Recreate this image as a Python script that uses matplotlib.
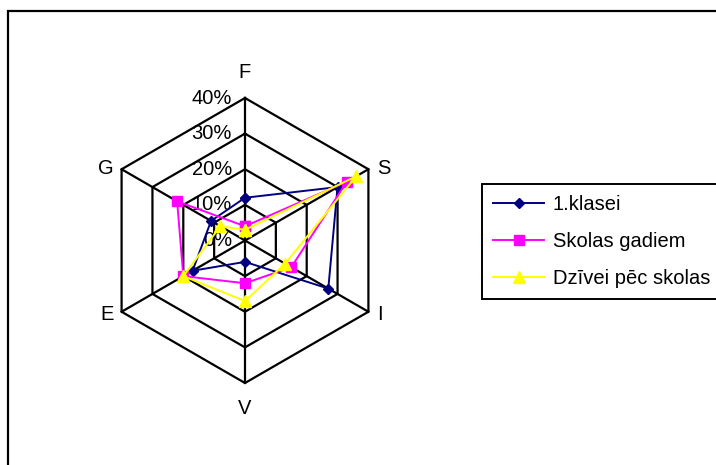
import numpy as np
import matplotlib
matplotlib.use("Agg")
import matplotlib.pyplot as plt
from matplotlib.patches import Rectangle

# Categories around the radar, clockwise from the top
categories = ["F", "S", "I", "V", "E", "G"]

# Shares per category (percent)
klasei = [12, 30, 27, 6, 17, 11]
skolas_gadiem = [4, 33, 15, 12, 20, 22]
dzivei_pec_skolas = [3, 36, 13, 17, 20, 8]

series_names = ["1.klasei", "Skolas gadiem", "Dzīvei pēc skolas"]

grid_levels = [0, 10, 20, 30, 40]
grid_labels = ["0%", "10%", "20%", "30%", "40%"]

plt.rcParams["font.family"] = ["Liberation Sans", "DejaVu Sans"]
FS = 14.5

W, H = 716, 465
fig = plt.figure(figsize=(W / 100, H / 100), dpi=100)
fig.patch.set_facecolor("white")

# Polar axes placed so the chart centre sits at (245, 240.5) px with a 142.5 px radius
cx, cy, rad = 245.0, 240.5, 142.5
ax = fig.add_axes([(cx - rad) / W, (H - cy - rad) / H, 2 * rad / W, 2 * rad / H],
                  projection="polar")
ax.set_theta_zero_location("N")
ax.set_theta_direction(-1)
ax.set_ylim(0, 40)
ax.grid(False)
ax.spines["polar"].set_visible(False)
ax.set_xticks([])
ax.set_yticks([])
ax.patch.set_alpha(0)

n = len(categories)
theta = np.arange(n) * 2 * np.pi / n
theta_closed = np.append(theta, theta[0])

# Hexagonal grid rings and spokes
for lvl in grid_levels[1:]:
    ax.plot(theta_closed, [lvl] * (n + 1), color="black", lw=1.6, clip_on=False, zorder=1)
for t in theta:
    ax.plot([t, t], [0, grid_levels[-1]], color="black", lw=1.6, clip_on=False, zorder=1)

# Radial value labels along the top spoke
for lvl, lab in zip(grid_levels, grid_labels):
    ax.annotate(lab, xy=(0, lvl), xytext=(-13, 0), textcoords="offset pixels",
                ha="right", va="center", fontsize=FS, annotation_clip=False, zorder=2)

# Category labels outside the outer ring
label_offsets = {
    "F": ((0, 26), "center"),
    "S": ((9, 1), "left"),
    "I": ((9, -3), "left"),
    "V": ((0, -25), "center"),
    "E": ((-8, -3), "right"),
    "G": ((-8, 1), "right"),
}
for t, cat in zip(theta, categories):
    off, ha = label_offsets[cat]
    ax.annotate(cat, xy=(t, grid_levels[-1]), xytext=off, textcoords="offset pixels",
                ha=ha, va="center", fontsize=FS, annotation_clip=False)

styles = [
    dict(color="#000080", marker="D", markersize=5.3),
    dict(color="#FF00FF", marker="s", markersize=6.5),
    dict(color="#FFFF00", marker="^", markersize=8.5),
]
for vals, name, st in zip([klasei, skolas_gadiem, dzivei_pec_skolas], series_names, styles):
    ax.plot(theta_closed, list(vals) + [vals[0]], color=st["color"], lw=1.4,
            marker=st["marker"], markersize=st["markersize"],
            markerfacecolor=st["color"], markeredgecolor=st["color"],
            label=name, clip_on=False, zorder=3)

leg = ax.legend(loc="upper left", bbox_to_anchor=(482 / W, 1 - 184 / H),
                bbox_transform=fig.transFigure, borderaxespad=0, fontsize=FS,
                frameon=True, fancybox=False, framealpha=1, edgecolor="black",
                handlelength=2.55, handletextpad=0.42, borderpad=0.55,
                labelspacing=0.9)
leg.get_frame().set_linewidth(1.4)

# Outer chart frame (runs off the right and bottom edges)
fig.patches.append(Rectangle((8 / W, -0.1), 1.2, (H - 11) / H + 0.1,
                             transform=fig.transFigure, fill=False,
                             lw=1.6, ec="black"))

fig.savefig("out.png", dpi=100)
